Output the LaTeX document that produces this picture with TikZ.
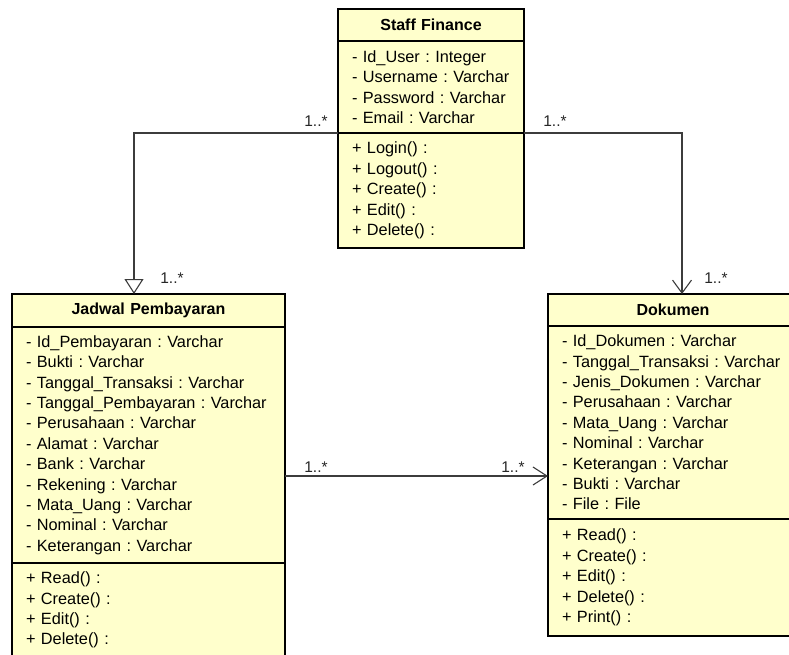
\documentclass[tikz,border=0pt]{standalone}
\usepackage{fontspec}
\setmainfont{Liberation Sans}
\usetikzlibrary{positioning,arrows.meta}
\definecolor{classfill}{RGB}{255,255,204}
\definecolor{linkgray}{RGB}{60,60,60}
\tikzset{
  cls/.style={rectangle, draw=black, fill=classfill, line width=1.6pt,
    outer sep=0pt, inner xsep=14pt, inner ysep=0pt,
    font=\fontsize{16.3}{20.4}\selectfont},
  clstitle/.style={cls, font=\fontsize{16}{20.4}\selectfont\bfseries, align=center},
  clsbody/.style={cls, align=left},
  assoc/.style={draw=linkgray, line width=1.1pt},
  mult/.style={font=\fontsize{15.5}{15}\selectfont, inner sep=0pt, text=black!85}
}
\frenchspacing

\begin{document}
\begin{tikzpicture}[x=1pt,y=-1pt]
  \useasboundingbox (0,0) rectangle (789,654);
  \clip (0,0) rectangle (789,654);

  % Staff Finance
  \node[clstitle, text width=158pt, minimum height=32pt, anchor=north] (stitle) at (431,9) {Staff Finance};
  \node[clsbody, text width=158pt, minimum height=92pt, below=0pt of stitle] (sattr)
    {- Id\_User : Integer\\- Username : Varchar\\- Password : Varchar\\- Email : Varchar};
  \node[clsbody, text width=158pt, minimum height=115pt, below=0pt of sattr] (sops)
    {+ Login() :\\+ Logout() :\\+ Create() :\\+ Edit() :\\+ Delete() :};

  % Jadwal Pembayaran
  \node[clstitle, text width=245pt, minimum height=33pt, anchor=north] (jtitle) at (148.5,294) {Jadwal Pembayaran};
  \node[clsbody, text width=245pt, minimum height=236pt, below=0pt of jtitle] (jattr)
    {- Id\_Pembayaran : Varchar\\- Bukti : Varchar\\- Tanggal\_Transaksi : Varchar\\
     - Tanggal\_Pembayaran : Varchar\\- Perusahaan : Varchar\\- Alamat : Varchar\\
     - Bank : Varchar\\- Rekening : Varchar\\- Mata\_Uang : Varchar\\
     - Nominal : Varchar\\- Keterangan : Varchar};
  \node[clsbody, text width=245pt, minimum height=94pt, below=0pt of jattr] (jops)
    {+ Read() :\\+ Create() :\\+ Edit() :\\+ Delete() :};

  % Dokumen
  \node[clstitle, text width=222pt, minimum height=32pt, anchor=north] (dtitle) at (673,294) {Dokumen};
  \node[clsbody, text width=222pt, minimum height=193pt, below=0pt of dtitle] (dattr)
    {- Id\_Dokumen : Varchar\\- Tanggal\_Transaksi : Varchar\\- Jenis\_Dokumen : Varchar\\
     - Perusahaan : Varchar\\- Mata\_Uang : Varchar\\- Nominal : Varchar\\
     - Keterangan : Varchar\\- Bukti : Varchar\\- File : File};
  \node[clsbody, text width=222pt, minimum height=117pt, below=0pt of dattr] (dops)
    {+ Read() :\\+ Create() :\\+ Edit() :\\+ Delete() :\\+ Print() :};

  % associations
  \draw[assoc, -{Triangle[open, length=15pt, width=19pt, fill=white, line width=1.1pt]}]
    (sattr.south west) -| ([xshift=-14.5pt]jtitle.north);
  \draw[assoc, -{Straight Barb[length=13pt, width=19pt, line width=1.1pt]}]
    (sattr.south east) -| ([xshift=9pt]dtitle.north);
  \coordinate (jlink) at ([yshift=-31pt]jattr.east);
  \draw[assoc, -{Straight Barb[length=14pt, width=18pt, line width=1.1pt]}]
    (jlink) -- (jlink -| dattr.west);

  % multiplicities
  \node[mult] (m1) at (316,121) {1..*};
  \node[mult] (m2) at (555,121) {1..*};
  \node[mult] (m3) at (172,278) {1..*};
  \node[mult] (m4) at (716,278) {1..*};
  \node[mult] (m5) at (316,467) {1..*};
  \node[mult] (m6) at (513,467) {1..*};
\end{tikzpicture}
\end{document}
